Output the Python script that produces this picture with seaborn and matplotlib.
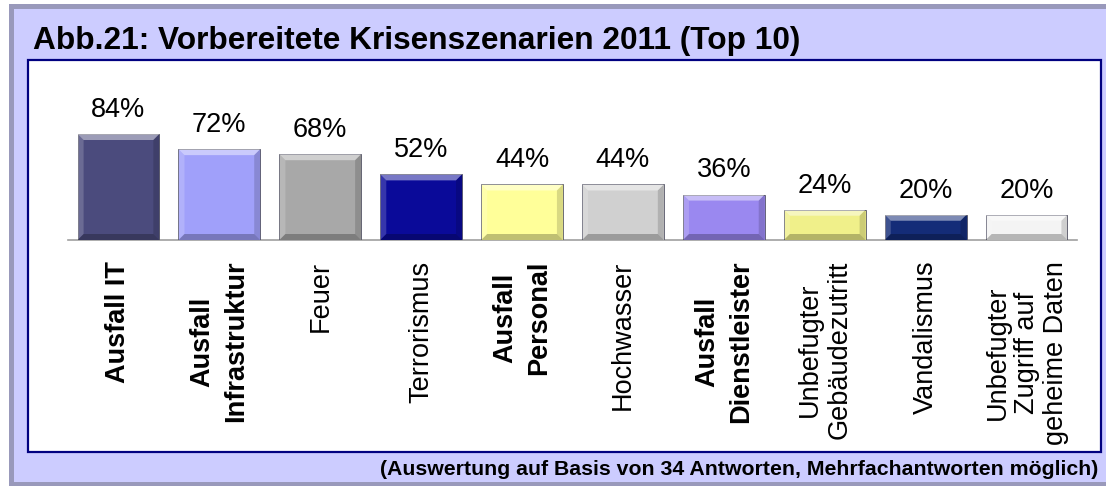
import matplotlib
matplotlib.use("Agg")
import matplotlib.pyplot as plt
import seaborn as sns
import pandas as pd
from matplotlib.patches import Rectangle, Polygon

categories = ["Ausfall IT", "Ausfall\nInfrastruktur", "Feuer", "Terrorismus",
              "Ausfall\nPersonal", "Hochwasser", "Ausfall\nDienstleister",
              "Unbefugter\nGebäudezutritt", "Vandalismus",
              "Unbefugter\nZugriff auf\ngeheime Daten"]
values = [84, 72, 68, 52, 44, 44, 36, 24, 20, 20]
bold_labels = [True, True, False, False, True, False, True, False, False, False]
bar_colors = ["#4b4b7d", "#a0a0fa", "#a8a8a8", "#0a0a99", "#ffff99",
              "#d0d0d0", "#9a88f0", "#f0f08a", "#142c78", "#f4f4f4"]
title = "Abb.21: Vorbereitete Krisenszenarien 2011 (Top 10)"
footnote = "(Auswertung auf Basis von 34 Antworten, Mehrfachantworten möglich)"

sns.set_theme(style="white")
plt.rcParams["font.family"] = ["Liberation Sans", "DejaVu Sans"]

W, H = 1106, 486
fig = plt.figure(figsize=(W / 100, H / 100), dpi=100)
fig.patch.set_facecolor("white")

def frect(x0, y0, x1, y1, **kw):
    r = Rectangle((x0 / W, 1 - y1 / H), (x1 - x0) / W, (y1 - y0) / H,
                  transform=fig.transFigure, **kw)
    fig.patches.append(r)

frect(9, 4, 1106, 486, facecolor="#9999bb", edgecolor="none", zorder=-3)
frect(14, 9, 1106, 482, facecolor="#ccccff", edgecolor="none", zorder=-2)
frect(28, 60, 1101, 452, facecolor="white", edgecolor="#000080", linewidth=1.6, zorder=-1)

fig.text(33 / W, 1 - 41 / H, title, ha="left", va="center", fontsize=22.8,
         fontweight="bold", color="black")
fig.text(1098 / W, 1 - 469 / H, footnote, ha="right", va="center", fontsize=15.3,
         fontweight="bold", color="black")

ax = fig.add_axes([68 / W, 1 - 240 / H, (1077 - 68) / W, 126.2 / H])
ax.set_zorder(5)
ax.set_facecolor("none")
df = pd.DataFrame({"cat": categories, "val": values})
sns.barplot(data=df, x="cat", y="val", hue="cat", palette=bar_colors,
            legend=False, width=0.81, ax=ax, saturation=1,
            edgecolor="#555566", linewidth=0.6)
ax.set_xlim(-0.5, len(categories) - 0.5)
ax.set_ylim(0, 100)
for s in ["top", "right", "left"]:
    ax.spines[s].set_visible(False)
ax.spines["bottom"].set_color("#a0a0a0")
ax.spines["bottom"].set_linewidth(1.2)
ax.spines["bottom"].set_zorder(0)
ax.set_yticks([])
ax.set_xlabel("")
ax.set_ylabel("")
ax.tick_params(axis="x", length=0, pad=15)
ax.set_xticks(range(len(categories)))
ax.set_xticklabels(categories, rotation=90, fontsize=19.5, color="black")
for lbl, b in zip(ax.get_xticklabels(), bold_labels):
    lbl.set_fontweight("bold" if b else "normal")
    lbl.set_multialignment("center")
    lbl.set_linespacing(1.38 if b else 1.15)

bars = [p for p in ax.patches if p.get_height() > 0]

# bevel overlays derived from the bar patches
fig.canvas.draw()
px_x = (ax.transData.transform((1, 0))[0] - ax.transData.transform((0, 0))[0])
px_y = (ax.transData.transform((0, 1))[1] - ax.transData.transform((0, 0))[1])
bev = 6
bx, by = bev / px_x, bev / px_y
for p in bars:
    x0, w, h = p.get_x(), p.get_width(), p.get_height()
    x1 = x0 + w
    facets = [
        ([(x0, h), (x1, h), (x1 - bx, h - by), (x0 + bx, h - by)], "white", 0.45),
        ([(x0, 0), (x0, h), (x0 + bx, h - by), (x0 + bx, by)], "white", 0.18),
        ([(x1, 0), (x1, h), (x1 - bx, h - by), (x1 - bx, by)], "black", 0.15),
        ([(x0, 0), (x1, 0), (x1 - bx, by), (x0 + bx, by)], "black", 0.25),
    ]
    for pts, c, a in facets:
        ax.add_patch(Polygon(pts, closed=True, facecolor=c, alpha=a,
                             edgecolor="none", zorder=3))
    ax.annotate(f"{h:.0f}%", (x0 + w / 2, h), xytext=(0, 8),
                textcoords="offset points", ha="center", va="bottom",
                fontsize=19.5, color="black", annotation_clip=False)

fig.savefig("out.png", dpi=100, facecolor="white")
